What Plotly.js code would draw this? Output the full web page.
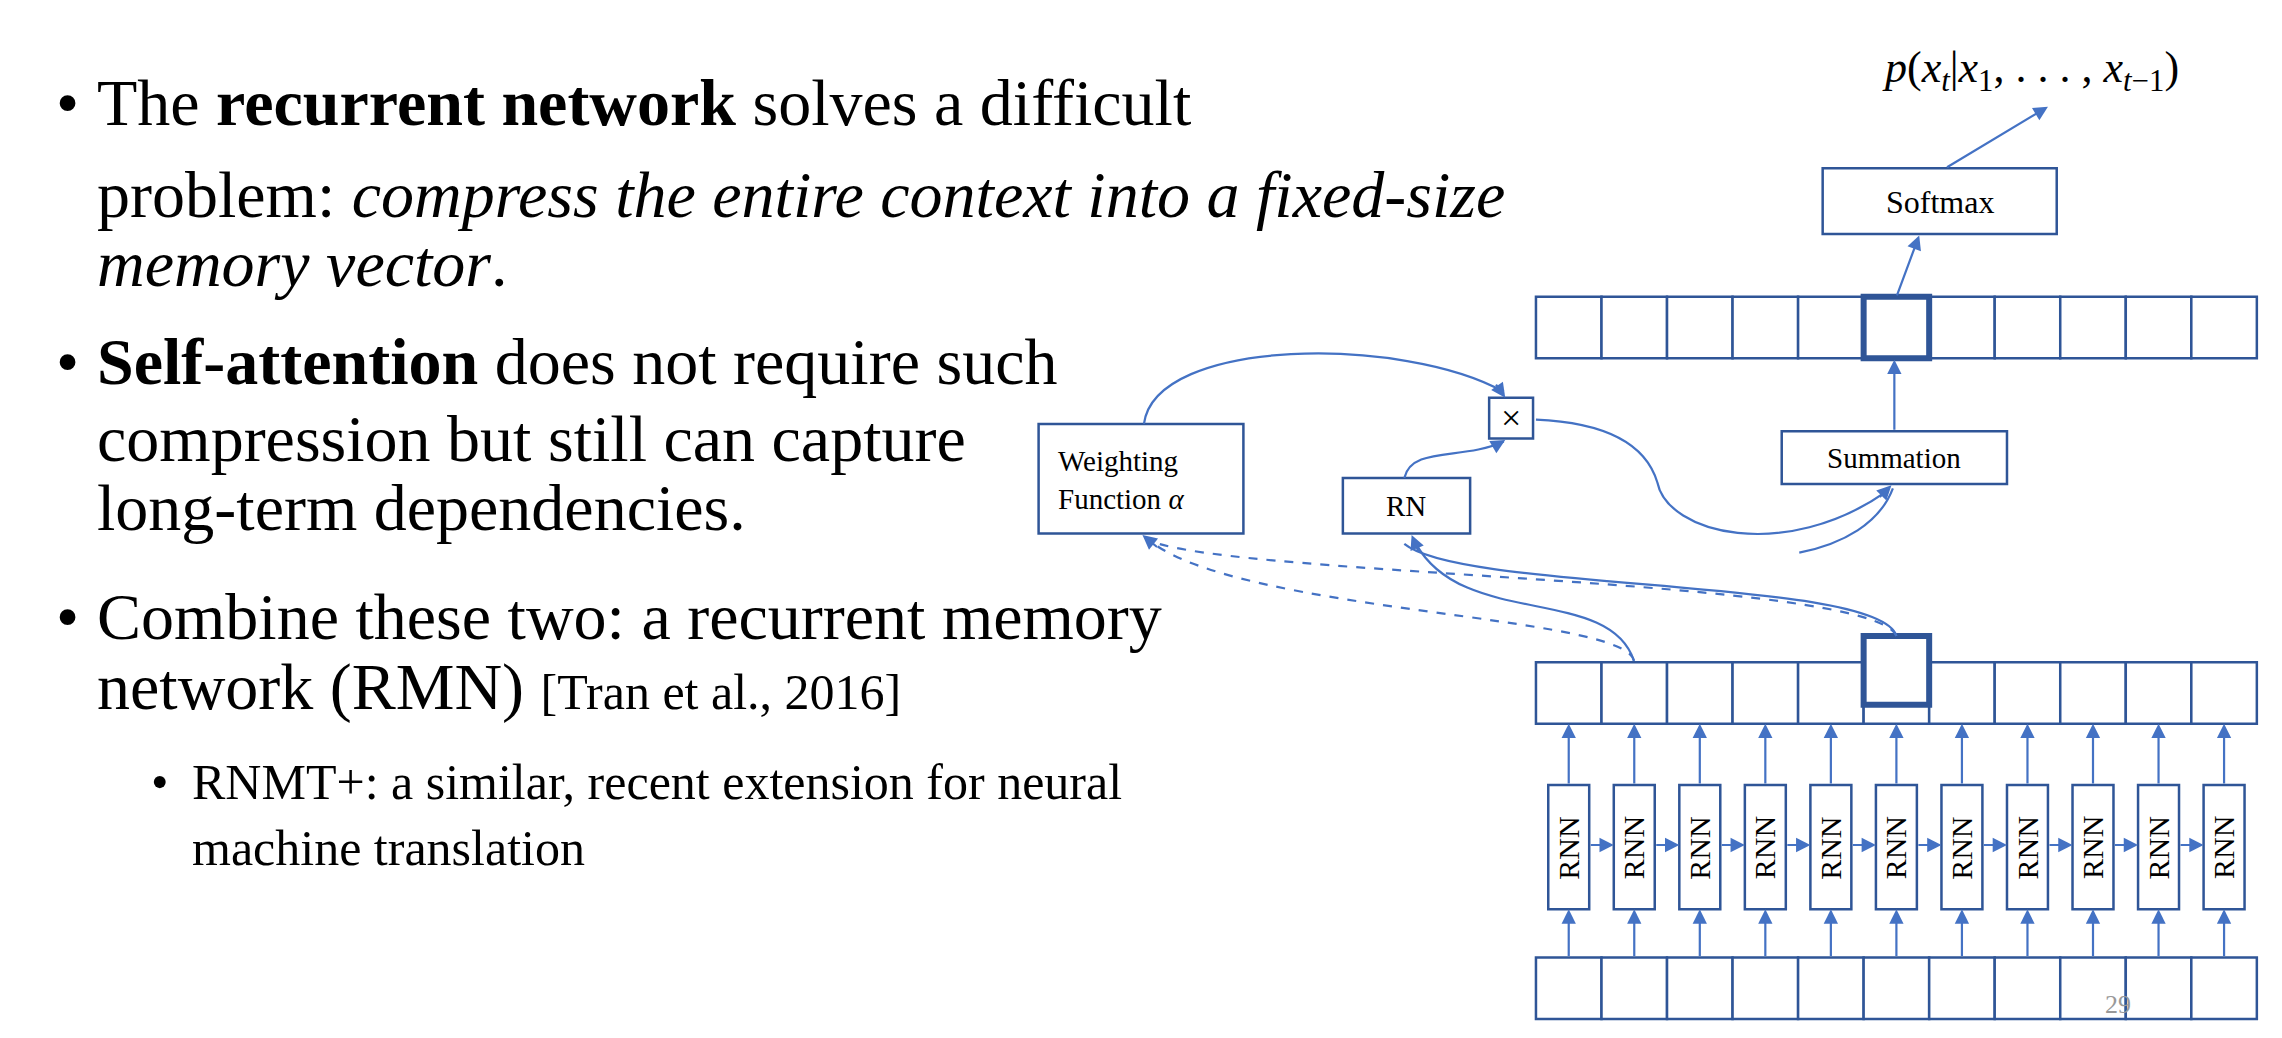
<!DOCTYPE html>
<html>
<head>
<meta charset="utf-8">
<script src="https://cdn.plot.ly/plotly-3.0.1.min.js"></script>
<style>html,body{margin:0;padding:0;background:#fff}</style>
</head>
<body>
<div id="chart" style="width:2282px;height:1038px"></div>
<script>
// slide text, one entry per line
var bulletLines = [
    {t: 'The <b>recurrent network</b> solves a difficult', y: 70, x: 65, s: 66, dot: true},
    {t: 'problem: <i>compress the entire context into a fixed-size</i>', y: 133, x: 65, s: 66},
    {t: '<i>memory vector</i>.', y: 180, x: 65, s: 66},
    {t: '<b>Self-attention</b> does not require such', y: 247, x: 65, s: 66, dot: true},
    {t: 'compression but still can capture', y: 300, x: 65, s: 66},
    {t: 'long-term dependencies.', y: 347, x: 65, s: 66},
    {t: 'Combine these two: a recurrent memory', y: 422, x: 65, s: 66, dot: true},
    {t: 'network (RMN) <span style="font-size:50px">[Tran et al., 2016]</span>', y: 470, x: 65, s: 66},
    {t: 'RNMT+: a similar, recent extension for neural', y: 535, x: 130, s: 50, dot: true},
    {t: 'machine translation', y: 580, x: 130, s: 50}
];
var nCells = 11;
var focusCell = 5;
var cellLabel = 'RNN';
var boxNames = ['Softmax', 'Summation', '×', 'RN', 'Weighting<br>Function <i>α</i>'];
var outText = '<i>p</i>(<i>x</i><sub><i>t</i></sub>|<i>x</i><sub>1</sub>, . . . , <i>x</i><sub><i>t</i>−1</sub>)';

var dark = '#2F5597';
var blue = '#4472C4';
var serif = '"Liberation Serif", "DejaVu Serif", serif';

var shapes = [];
var ann = [];
var x0 = 1050, cw = 44.8;

function rect(a, b, c, d, w) {
    shapes.push({type: 'rect', x0: a, x1: c, y0: b, y1: d, line: {color: dark, width: w || 2.5}, fillcolor: 'white'});
}
function arrow(fx, fy, tx, ty) {
    ann.push({x: tx, y: ty, ax: fx, ay: fy, axref: 'x', ayref: 'y', xref: 'x', yref: 'y', text: '',
        showarrow: true, arrowhead: 2, arrowsize: 1.3, arrowwidth: 2.2, arrowcolor: blue});
}
function curve(p, dash) {
    shapes.push({type: 'path', path: p, line: {color: blue, width: 2.2, dash: dash ? 'dash' : 'solid'}});
}
function label(x, y, t, s, extra, col) {
    ann.push(Object.assign({x: x, y: y, text: t, showarrow: false,
        font: {family: serif, size: s, color: col || 'black'}}, extra || {}));
}

// rows of cells
for (var i = 0; i < nCells; i++) {
    var a = x0 + i * cw, cx = a + cw / 2;
    rect(a, 203, a + cw, 245);
    rect(a, 453, a + cw, 495);
    rect(a, 655, a + cw, 697);
    rect(cx - 14, 537, cx + 14, 622);
    label(cx, 580, cellLabel, 30, {textangle: -90});
    arrow(cx, 655, cx, 622);
    arrow(cx, 537, cx, 495);
    if (i < nCells - 1) arrow(cx + 14, 578, cx + cw - 14, 578);
}
var fa = x0 + focusCell * cw, fc = fa + cw / 2;
shapes.push({type: 'rect', x0: fa, x1: fa + cw, y0: 203, y1: 245, line: {color: dark, width: 6}, fillcolor: 'white'});
shapes.push({type: 'rect', x0: fa, x1: fa + cw, y0: 435, y1: 482, line: {color: dark, width: 6}, fillcolor: 'white'});

// boxes
rect(1246, 115, 1406, 160); label(1326, 138, boxNames[0], 32);
rect(1218, 295, 1372, 331); label(1295, 313, boxNames[1], 29);
rect(1018, 272, 1048, 300); label(1033, 286, boxNames[2], 36);
rect(918, 327, 1005, 365); label(961, 346, boxNames[3], 29);
rect(710, 290, 850, 365); label(722, 328, boxNames[4], 29, {xanchor: 'left', align: 'left'});

label(1388, 48, outText, 44);

// arrows to output
arrow(fc, 203, 1312, 161);
arrow(1330, 115, 1400, 73);
arrow(1295, 295, 1295, 246);

// curves
curve('M 782 290 C 790 230, 960 230, 1028 268');
arrow(1022, 262, 1029, 272);
curve('M 960 327 C 965 305, 1000 315, 1028 302');
arrow(1022, 305, 1029, 301);
curve('M 1050 287 C 1120 290, 1130 320, 1133 330 C 1140 365, 1220 385, 1290 336');
arrow(1284, 341, 1293, 332);
curve('M 1230 378 C 1260 372, 1285 358, 1294 334');
curve('M 1117 452 C 1100 400, 1000 430, 968 372');
arrow(970, 378, 965, 366);
curve('M ' + fc + ' 435 C 1285 395, 1000 405, 960 372');
curve('M 1117 452 C 1110 420, 850 420, 786 370', true);
arrow(792, 375, 781, 366);
curve('M ' + fc + ' 435 C 1280 395, 850 395, 786 370', true);

// bullets and text
bulletLines.forEach(function (l) {
    label(l.x, l.y, l.t, l.s, {xanchor: 'left', yanchor: 'middle'});
    if (l.dot) label(l.x - 28, l.y, '•', l.s, {xanchor: 'left', yanchor: 'middle'});
});
label(1448, 687, '29', 26, {}, '#999');

Plotly.newPlot('chart', [], {
    width: 2282, height: 1038,
    margin: {l: 0, r: 0, t: 0, b: 0},
    paper_bgcolor: 'white', plot_bgcolor: 'white',
    xaxis: {range: [0, 1560], visible: false, fixedrange: true},
    yaxis: {range: [710, 0], visible: false, fixedrange: true},
    shapes: shapes, annotations: ann, showlegend: false
}, {displayModeBar: false, staticPlot: true});
</script>
</body>
</html>
